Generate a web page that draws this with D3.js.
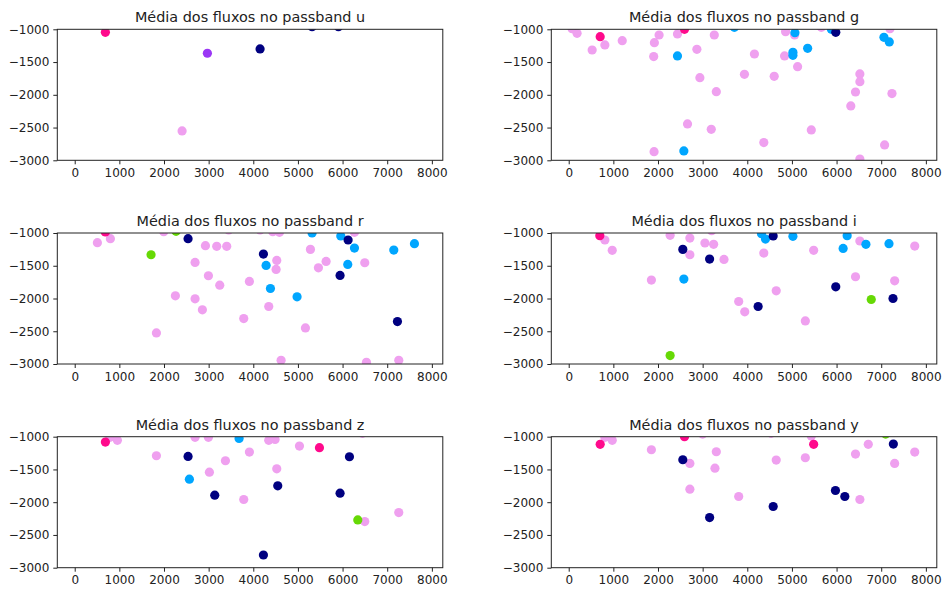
<!DOCTYPE html>
<html>
<head>
<meta charset="utf-8">
<script src="https://cdn.jsdelivr.net/npm/d3@7"></script>
<style>
  body { margin: 0; background: #fff; }
  svg { font-family: "DejaVu Sans", sans-serif; }
  .axis text { fill: #222; }
  .axis path, .axis line { stroke: #222; }
</style>
</head>
<body>
<svg id="fig" width="944" height="590"></svg>
<script>
// each point: [wavelength-ish x, mean flux y, class]
var bandU = [
  [687, -1046, "pink"], [2972, -1366, "purple"], [4152, -1300, "navy"],
  [2405, -2552, "violet"], [5317, -960, "navy"], [5907, -960, "navy"]
];

var bandG = [
  [75, -990, "violet"], [187, -1061, "violet"], [525, -1316, "violet"], [810, -1239, "violet"],
  [1199, -1173, "violet"], [2024, -1087, "violet"], [1919, -1204, "violet"], [1904, -1417, "violet"],
  [2436, -1071, "violet"], [2871, -1305, "violet"], [3261, -1087, "violet"], [2938, -1738, "violet"],
  [3306, -1952, "violet"], [2661, -2445, "violet"], [3193, -2527, "violet"], [1912, -2868, "violet"],
  [3936, -1687, "violet"], [4160, -1377, "violet"], [4603, -1718, "violet"], [4370, -2730, "violet"],
  [4858, -1036, "violet"], [4835, -1407, "violet"], [5060, -1087, "violet"], [5127, -1570, "violet"],
  [5434, -2537, "violet"], [5659, -970, "violet"], [6522, -1682, "violet"], [6522, -1799, "violet"],
  [6424, -1957, "violet"], [6319, -2170, "violet"], [6522, -2980, "violet"], [7241, -1982, "violet"],
  [7076, -2766, "violet"], [7196, -990, "violet"],
  [705, -1112, "pink"], [2594, -1000, "pink"],
  [2436, -1407, "sky"], [2579, -2857, "sky"], [3711, -970, "sky"], [5067, -1051, "sky"],
  [5022, -1351, "sky"], [5022, -1397, "sky"], [5352, -1290, "sky"], [7061, -1122, "sky"],
  [7181, -1193, "sky"], [5884, -1000, "sky"],
  [5982, -1046, "navy"]
];

var bandR = [
  [508, -1148, "violet"], [799, -1087, "violet"], [1994, -980, "violet"], [2255, -1959, "violet"],
  [1830, -2526, "violet"], [2696, -1449, "violet"], [2928, -1194, "violet"], [3181, -1204, "violet"],
  [3405, -1204, "violet"], [2995, -1653, "violet"], [3249, -1796, "violet"], [2696, -2005, "violet"],
  [2860, -2173, "violet"], [3450, -954, "violet"], [4152, -954, "violet"], [3913, -1740, "violet"],
  [3786, -2306, "violet"], [4346, -2122, "violet"], [4436, -980, "violet"], [4586, -990, "violet"],
  [4526, -1418, "violet"], [4511, -1556, "violet"], [4623, -2944, "violet"], [5168, -2449, "violet"],
  [5280, -1250, "violet"], [5459, -1531, "violet"], [5631, -1434, "violet"], [6266, -990, "violet"],
  [6497, -1454, "violet"], [6535, -2974, "violet"], [7259, -2944, "violet"],
  [687, -985, "pink"],
  [1710, -1332, "green"], [2270, -975, "green"],
  [5317, -1000, "sky"], [5960, -1046, "sky"], [6116, -1480, "sky"], [6266, -1230, "sky"],
  [4287, -1495, "sky"], [4384, -1847, "sky"], [4981, -1974, "sky"], [7147, -1260, "sky"],
  [7610, -1163, "sky"],
  [2539, -1087, "navy"], [4227, -1321, "navy"], [5944, -1648, "navy"], [6124, -1107, "navy"],
  [7229, -2352, "navy"]
];

var bandI = [
  [810, -1107, "violet"], [975, -1265, "violet"], [1852, -1719, "violet"], [2272, -1036, "violet"],
  [2714, -1077, "violet"], [2714, -1332, "violet"], [3051, -1153, "violet"], [3246, -1173, "violet"],
  [3201, -964, "violet"], [3478, -1403, "violet"], [3808, -2046, "violet"], [3943, -2204, "violet"],
  [4370, -1306, "violet"], [4648, -1883, "violet"], [5300, -2342, "violet"], [5487, -1265, "violet"],
  [6424, -1668, "violet"], [6522, -1122, "violet"], [7301, -1730, "violet"], [7751, -1199, "violet"],
  [697, -1041, "pink"],
  [4318, -1010, "sky"], [4408, -1092, "sky"], [5022, -1051, "sky"], [6237, -1041, "sky"],
  [6147, -1235, "sky"], [6657, -1173, "sky"], [7174, -1163, "sky"], [2579, -1704, "sky"],
  [2556, -1250, "navy"], [3156, -1398, "navy"], [4243, -2122, "navy"], [4580, -1046, "navy"],
  [5982, -1821, "navy"], [7264, -2000, "navy"],
  [2272, -2872, "green"], [6777, -2015, "green"]
];

var bandZ = [
  [792, -1010, "violet"], [956, -1056, "violet"], [1830, -1291, "violet"], [2696, -1010, "violet"],
  [2995, -1010, "violet"], [3017, -1541, "violet"], [3376, -1367, "violet"], [3913, -1235, "violet"],
  [3786, -1959, "violet"], [4346, -1056, "violet"], [4488, -1041, "violet"], [4526, -1490, "violet"],
  [5034, -1143, "violet"], [6445, -949, "violet"], [6497, -2296, "violet"], [7259, -2158, "violet"],
  [687, -1082, "pink"], [5482, -1168, "pink"],
  [2569, -1648, "sky"], [3682, -1026, "sky"],
  [2539, -1301, "navy"], [3137, -1893, "navy"], [4227, -2806, "navy"], [4548, -1750, "navy"],
  [5944, -1862, "navy"], [6154, -1306, "navy"],
  [6341, -2270, "green"]
];

var bandY = [
  [810, -1010, "violet"], [975, -1056, "violet"], [1852, -1199, "violet"], [2714, -1408, "violet"],
  [2714, -1801, "violet"], [3000, -960, "violet"], [3306, -1230, "violet"], [3276, -1480, "violet"],
  [3808, -1913, "violet"], [4535, -949, "violet"], [4648, -1357, "violet"], [5300, -1321, "violet"],
  [5434, -990, "violet"], [6424, -1265, "violet"], [6710, -1117, "violet"], [6522, -1959, "violet"],
  [7301, -1408, "violet"], [7751, -1235, "violet"],
  [705, -1117, "pink"], [2594, -1000, "pink"], [5487, -1117, "pink"],
  [2556, -1352, "navy"], [3156, -2235, "navy"], [4580, -2066, "navy"], [5975, -1821, "navy"],
  [6185, -1913, "navy"], [7272, -1112, "navy"],
  [7099, -960, "green"]
];

var bandNames = ["u", "g", "r", "i", "z", "y"];
var bandData = [bandU, bandG, bandR, bandI, bandZ, bandY];
var xTicks = [0, 1000, 2000, 3000, 4000, 5000, 6000, 7000, 8000];
var yTicks = [-1000, -1500, -2000, -2500, -3000];

var color = d3.scaleOrdinal()
    .domain(["violet", "pink", "sky", "navy", "green", "purple"])
    .range(["#efa0ef", "#ff0a8c", "#00a6ff", "#000080", "#66d905", "#9b37f5"]);

// matplotlib style minus sign
function fmt(v) { return v < 0 ? "\u2212" + Math.abs(v) : String(v); }

var svg = d3.select("#fig");

var cols = [57.3, 551.3], axW = 385.5;
var rows = [29.3, 233, 436.7], axH = 131;

bandData.forEach(function(pts, k) {
  var left = cols[k % 2], top = rows[Math.floor(k / 2)];
  var g = svg.append("g").attr("transform", "translate(" + left + "," + top + ")");

  var x = d3.scaleLinear().domain([-390, 8245]).range([0, axW]);
  var y = d3.scaleLinear().domain([-3000, -1000]).range([axH, 0]);

  var clipId = "clip" + k;
  g.append("clipPath").attr("id", clipId)
    .append("rect").attr("width", axW).attr("height", axH);

  g.append("g")
      .attr("clip-path", "url(#" + clipId + ")")
    .selectAll("circle")
    .data(pts)
    .enter().append("circle")
      .attr("cx", function(d) { return x(d[0]); })
      .attr("cy", function(d) { return y(d[1]); })
      .attr("r", 4.6)
      .attr("fill", function(d) { return color(d[2]); });

  g.append("g")
      .attr("class", "axis")
      .attr("transform", "translate(0," + axH + ")")
      .call(d3.axisBottom(x).tickValues(xTicks).tickFormat(fmt).tickSizeOuter(0).tickSize(4).tickPadding(4))
      .attr("font-family", "DejaVu Sans")
      .attr("font-size", 12);

  g.append("g")
      .attr("class", "axis")
      .call(d3.axisLeft(y).tickValues(yTicks).tickFormat(fmt).tickSizeOuter(0).tickSize(4).tickPadding(4))
      .attr("font-family", "DejaVu Sans")
      .attr("font-size", 12);

  g.selectAll(".axis .domain").remove();

  g.append("rect")
      .attr("width", axW)
      .attr("height", axH)
      .attr("fill", "none")
      .attr("stroke", "#222")
      .attr("stroke-width", 1);

  g.append("text")
      .attr("x", axW / 2)
      .attr("y", -7)
      .attr("text-anchor", "middle")
      .style("font-size", "14.4px")
      .attr("fill", "#222")
      .text("Média dos fluxos no passband " + bandNames[k]);
});
</script>
</body>
</html>
